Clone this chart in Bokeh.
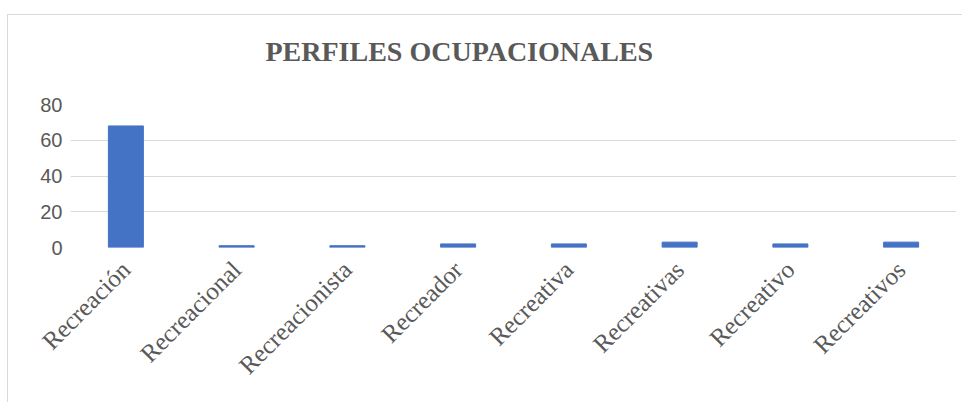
from bokeh.plotting import figure
from bokeh.models import Range1d, FixedTicker, Title
from bokeh.embed import file_html
from bokeh.resources import INLINE
import math

categories = ["Recreación", "Recreacional", "Recreacionista", "Recreador",
              "Recreativa", "Recreativas", "Recreativo", "Recreativos"]
values = [68, 1, 1, 2, 2, 3, 2, 3]
y_ticks = [0, 20, 40, 60, 80]
title_text = "PERFILES OCUPACIONALES"

TXT = "#595959"
GRID = "#d9d9d9"
BAR = "#4472c4"

p = figure(x_range=categories, y_range=Range1d(0, 80),
           width=955, height=388, output_backend="svg", toolbar_location=None,
           min_border_left=62, min_border_right=7, min_border_top=89, min_border_bottom=156)
p.margin = (14, 0, 0, 7)
p.styles = {"border-top": "1px solid #d9d9d9", "border-left": "1px solid #d9d9d9"}

p.vbar(x=categories, top=values, width=0.316, color=BAR)

spacer = Title(text=" ", text_font_size="1px", standoff=30)
p.add_layout(spacer, "above")
t = Title(text=title_text, text_font="Liberation Serif", text_font_size="28px",
          text_font_style="bold", text_color=TXT, align="left", offset=195,
          vertical_align="bottom", standoff=10)
p.add_layout(t, "above")

p.outline_line_color = None
p.xgrid.grid_line_color = None
p.ygrid.grid_line_color = GRID
p.ygrid.grid_line_width = 1

p.yaxis.ticker = FixedTicker(ticks=y_ticks)
p.yaxis.axis_line_color = None
p.yaxis.major_tick_line_color = None
p.yaxis.minor_tick_line_color = None
p.yaxis.major_tick_out = 0
p.yaxis.major_tick_in = 0
p.yaxis.major_label_text_font = "Liberation Sans"
p.yaxis.major_label_text_font_size = "20px"
p.yaxis.major_label_text_color = TXT
p.yaxis.major_label_standoff = 8

p.xaxis.axis_line_color = None
p.xaxis.major_tick_line_color = None
p.xaxis.minor_tick_line_color = None
p.xaxis.major_label_text_font = "Liberation Serif"
p.xaxis.major_label_text_font_size = "25px"
p.xaxis.major_label_text_color = TXT
p.xaxis.major_label_orientation = math.pi / 4
p.xaxis.major_label_standoff = 12

open("out.html", "w").write(file_html(p, INLINE))
